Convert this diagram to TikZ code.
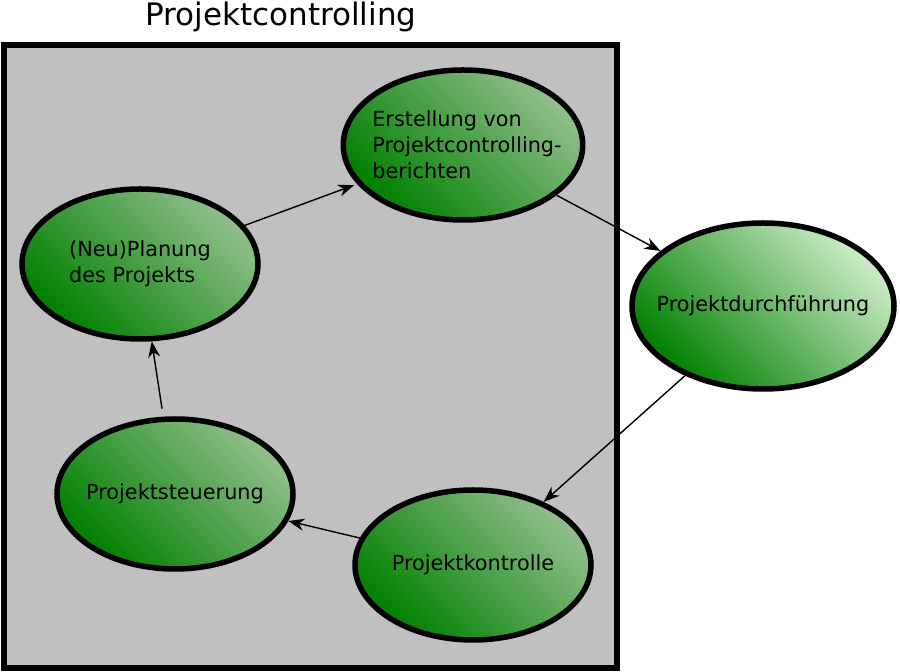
\documentclass[tikz,border=0pt]{standalone}
\usepackage{fontspec}
\setmainfont{DejaVu Sans}
\usetikzlibrary{arrows.meta, shapes.geometric}

\definecolor{boxgray}{RGB}{192,192,192}
\definecolor{phasedark}{RGB}{0,128,0}
\definecolor{phaselight}{RGB}{145,190,140}
\definecolor{phaselightout}{RGB}{205,235,200}

\begin{document}
\begin{tikzpicture}[
  x=1pt, y=1pt,
  every node/.style={font=\fontsize{20.8}{26}\selectfont},
  phase/.style={ellipse, draw, line width=5.5pt, align=left,
    inner xsep=-14pt, inner ysep=0pt,
    minimum width=236pt, minimum height=150pt,
    top color=phaselight, bottom color=phasedark, shading angle=-45},
  frame/.style={rectangle, draw, line width=5.5pt, fill=boxgray},
  arrow/.style={-{Stealth[length=16pt, width=12pt, inset=5pt]}, line width=1.4pt}
]

\useasboundingbox (0,0) rectangle (900,672);

% Controlling box
\draw[frame] (4,627) rectangle (617,4);
\node[anchor=base, font=\fontsize{31}{36}\selectfont] (title) at (281,646) {Projektcontrolling};

% Phases
\node[phase] (planung) at (140,408) {(Neu)Planung\\des Projekts};
\node[phase, text depth=0pt] (bericht) at (463,527) {\hspace*{8pt}Erstellung von\\\hspace*{8pt}Projektcontrolling-\\\hspace*{8pt}berichten};
\node[phase, minimum width=262pt, minimum height=166pt,
  top color=phaselightout, bottom color=phasedark, shading angle=-45] (durchf) at (763,366) {Projektdurchführung};
\node[phase] (kontrolle) at (473,107) {Projektkontrolle};
\node[phase] (steuerung) at (175,178) {Projektsteuerung};

% Cycle
\draw[arrow, shorten >=3pt] (planung) -- (bericht);
\draw[arrow] (bericht) -- (durchf);
\draw[arrow] (durchf) -- (kontrolle);
\draw[arrow] (kontrolle) -- (steuerung);
\draw[arrow, shorten <=8pt] (steuerung) -- (planung);

\end{tikzpicture}
\end{document}
